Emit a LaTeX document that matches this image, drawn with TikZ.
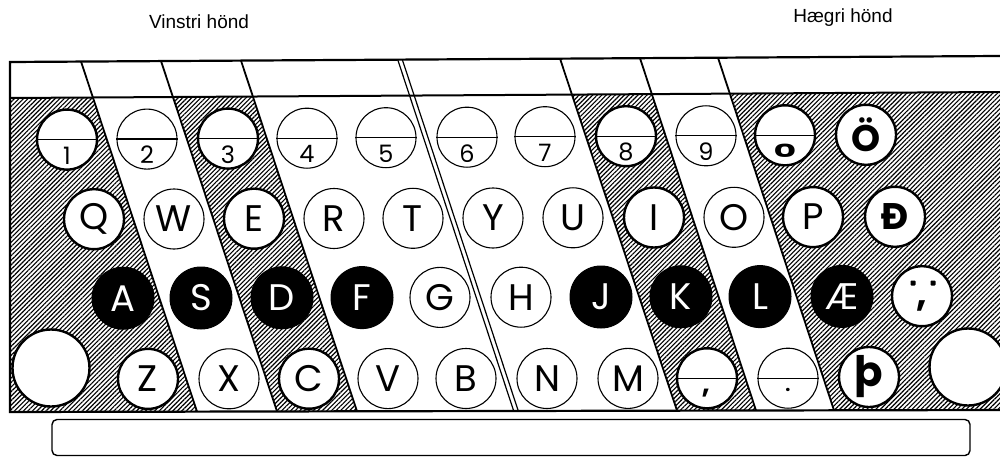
\documentclass[tikz,border=0pt]{standalone}
\usepackage{fontspec}
\setmainfont{Liberation Sans}
\newfontfamily\keyfam{Poppins}
\usetikzlibrary{patterns.meta}
\newcommand\kf{\keyfam\fontsize{37}{37}\selectfont}
\newcommand\kfb{\keyfam\bfseries\fontsize{37}{37}\selectfont}
\newcommand\dgf{\keyfam\fontsize{24}{24}\selectfont}
\newcommand\numkey[5]{%
  \node[#4] (#1) at (#2,#3) {};
  \draw[divline] (#1.west) -- (#1.east);
  \node[digit] (#1d) at ([yshift=-16pt]#1.center) {#5};}
\tikzset{
  hatch/.style={pattern={Lines[angle=45,distance=3.2pt,line width=1.15pt]},pattern color=black},
  frameline/.style={line width=2.2pt,line join=miter},
  slant/.style={line width=1.8pt},
  dblline/.style={line width=1.2pt},
  keythin/.style={circle,draw,line width=1.1pt,fill=white,minimum size=60pt,inner sep=0pt,font=\kf},
  keythick/.style={keythin,line width=2.4pt},
  keyblack/.style={circle,draw=black,fill=black,line width=1pt,minimum size=62pt,inner sep=0pt,text=white,font=\kf},
  keybig/.style={circle,draw,fill=white,line width=2.4pt,minimum size=77pt,inner sep=0pt},
  divline/.style={line width=1.3pt},
  digit/.style={inner sep=0pt,font=\dgf},
  sym/.style={inner sep=0pt,font=\kfb},
  dotmark/.style={fill=black,rounded corners=0.8pt,minimum size=5pt,inner sep=0pt},
  title/.style={font=\fontsize{19}{19}\selectfont}
}
\begin{document}
\begin{tikzpicture}[x=1pt,y=-1pt]
\useasboundingbox (0,0) rectangle (1000,457);
% frame corners
\coordinate (Lt) at (10,62);   \coordinate (Rt) at (1000,56);
\coordinate (Li) at (10,98);   \coordinate (Ri) at (1000,92);
\coordinate (Lb) at (10,412);  \coordinate (Rb) at (1000,410);
% slanted separators: top / inner / bottom
\coordinate (a1t) at (81,61.5);  \coordinate (a1i) at (93,97.4);  \coordinate (a1b) at (197,411.6);
\coordinate (a2t) at (161,61.0); \coordinate (a2i) at (173,97.0); \coordinate (a2b) at (277,411.4);
\coordinate (a3t) at (241,60.6); \coordinate (a3i) at (253,96.5); \coordinate (a3b) at (357,411.3);
\coordinate (a4t) at (400,59.6); \coordinate (a4b) at (516,411.0);
\coordinate (a5t) at (560,58.6); \coordinate (a5i) at (572,94.6); \coordinate (a5b) at (677,410.6);
\coordinate (a6t) at (640,58.2); \coordinate (a6i) at (652,94.1); \coordinate (a6b) at (756,410.5);
\coordinate (a7t) at (718,57.7); \coordinate (a7i) at (730,93.6); \coordinate (a7b) at (834,410.3);
% hatched zones
\fill[hatch] (Li) -- (a1i) -- (a1b) -- (Lb) -- cycle;
\fill[hatch] (a2i) -- (a3i) -- (a3b) -- (a2b) -- cycle;
\fill[hatch] (a5i) -- (a6i) -- (a6b) -- (a5b) -- cycle;
\fill[hatch] (a7i) -- (Ri) -- (Rb) -- (a7b) -- cycle;
% frame
\draw[frameline] (Rt) -- (Lt) -- (Lb) -- (Rb);
\draw[frameline,line width=2pt] (Li) -- (Ri);
% separators
\draw[slant] (a1t) -- (a1b);
\draw[slant] (a2t) -- (a2b);
\draw[slant] (a3t) -- (a3b);
\draw[dblline] ([xshift=-2.3pt]a4t) -- ([xshift=-2.3pt]a4b);
\draw[dblline] ([xshift=2.3pt]a4t) -- ([xshift=2.3pt]a4b);
\draw[slant] (a5t) -- (a5b);
\draw[slant] (a6t) -- (a6b);
\draw[slant] (a7t) -- (a7b);
% titles
\node[title] (lefthand) at (199,22) {Vinstri hönd};
\node[title] (righthand) at (843,18) {Hægri hönd};
% number row
\numkey{k1}{67}{139.6}{keythick}{1}
\numkey{k2}{147}{139.1}{keythin}{2}
\numkey{k3}{228}{138.6}{keythick}{3}
\numkey{k4}{307}{138.2}{keythin}{4}
\numkey{k5}{386}{137.7}{keythin}{5}
\numkey{k6}{467}{137.2}{keythin}{6}
\numkey{k7}{545}{136.7}{keythin}{7}
\numkey{k8}{626}{136.2}{keythick}{8}
\numkey{k9}{706}{135.8}{keythin}{9}
\node[keythick] (k0) at (785,135.3) {};
\draw[divline] (k0.west) -- (k0.east);
\node[digit] (k0d) at ([yshift=-15pt]k0.center) {\bfseries\scalebox{1.45}[0.75]{0}};
\node[keythick,font=\kfb] (kOe) at (866,134.8) {Ö};
% Q row
\node[keythick] (kQ) at (94,219.2) {Q};
\node[keythin]  (kW) at (174,219.0) {W};
\node[keythick] (kE) at (254,218.7) {E};
\node[keythin]  (kR) at (334,218.5) {R};
\node[keythin]  (kT) at (413,218.3) {T};
\node[keythin]  (kY) at (493,218.0) {Y};
\node[keythin]  (kU) at (573,217.8) {U};
\node[keythick] (kI) at (654,217.5) {I};
\node[keythin]  (kO) at (734,217.3) {O};
\node[keythick] (kP) at (813,217.1) {P};
\node[keythick,font=\kfb] (kDh) at (895,216.8) {Ð};
% A row
\node[keyblack] (kA) at (123,298.2) {A};
\node[keyblack] (kS) at (201,298.0) {S};
\node[keyblack] (kD) at (282,297.8) {D};
\node[keyblack] (kF) at (362,297.6) {F};
\node[keythin]  (kG) at (440,297.4) {G};
\node[keythin]  (kH) at (521,297.2) {H};
\node[keyblack] (kJ) at (601,297.0) {J};
\node[keyblack] (kK) at (681,296.8) {K};
\node[keyblack] (kL) at (760,296.6) {L};
\node[keyblack] (kAE) at (842,296.4) {Æ};
\node[keythick] (kSemi) at (922,296.2) {};
\node[dotmark] (kSemiDotL) at (913,283) {};
\node[dotmark] (kSemiDotR) at (933,283) {};
\node[sym] (kSemiBot) at (922,306) {,};
% Z row
\node[keybig]   (bigL) at (51,368) {};
\node[keythick] (kZ) at (148,378.9) {Z};
\node[keythin]  (kX) at (229,378.8) {X};
\node[keythick] (kC) at (309,378.7) {C};
\node[keythin]  (kV) at (388,378.6) {V};
\node[keythin]  (kB) at (466,378.5) {B};
\node[keythin]  (kN) at (547,378.5) {N};
\node[keythin]  (kM) at (628,378.4) {M};
\node[keythick] (kComma) at (707,378.3) {};
\draw[divline] (kComma.west) -- (kComma.east);
\node[sym,font=\keyfam\bfseries\fontsize{28}{28}\selectfont] (kCommad) at (706,393) {,};
\node[keythin]  (kDot) at (788,378.2) {};
\draw[divline] (kDot.west) -- (kDot.east);
\node[sym,font=\keyfam\bfseries\fontsize{18}{18}\selectfont] (kDotd) at (788,390) {.};
\node[keythick,font=\keyfam\bfseries\fontsize{42}{42}\selectfont] (kThorn) at (869,377) {þ};
\node[keybig]   (bigR) at (968,367) {};
% space bar
\node[draw,rounded corners=5pt,line width=1.4pt,minimum width=918pt,minimum height=36pt,inner sep=0pt] (space) at (511,437.5) {};
\end{tikzpicture}
\end{document}
